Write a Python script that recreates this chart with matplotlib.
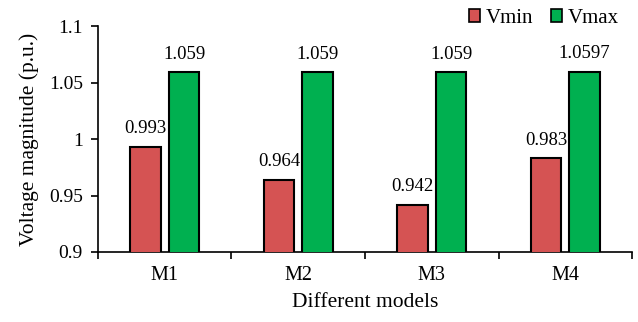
import matplotlib.pyplot as plt
import numpy as np
from matplotlib.patches import Patch

models = ["M1", "M2", "M3", "M4"]
vmin = [0.993, 0.964, 0.942, 0.983]
vmax = [1.059, 1.059, 1.059, 1.0597]
vmin_labels = ["0.993", "0.964", "0.942", "0.983"]
vmax_labels = ["1.059", "1.059", "1.059", "1.0597"]

RED = "#d55353"
GREEN = "#00b050"

plt.rcParams["font.family"] = ["Liberation Serif", "DejaVu Serif"]

fig = plt.figure(figsize=(6.38, 3.22), dpi=100)
ax = fig.add_axes([0.1536, 0.2174, 0.837, 0.7016])

x = np.arange(len(models))
w = 0.23
off = 0.145
ax.bar(x - off, vmin, w, color=RED, edgecolor="black", linewidth=1.5, zorder=3)
ax.bar(x + off, vmax, w, color=GREEN, edgecolor="black", linewidth=1.5, zorder=3)

# value labels above the bars
for xi, v, s in zip(x, vmin, vmin_labels):
    ax.annotate(s, (xi - off, v), xytext=(0, 7), textcoords="offset points",
                ha="center", va="bottom", fontsize=13.5)
for xi, v, s in zip(x, vmax, vmax_labels):
    ax.annotate(s, (xi + off, v), xytext=(0, 7), textcoords="offset points",
                ha="center", va="bottom", fontsize=13.5)

ax.set_ylim(0.9, 1.1)
ax.set_xlim(-0.5, len(models) - 0.5)
ax.set_yticks([0.9, 0.95, 1.0, 1.05, 1.1])
ax.set_yticklabels(["0.9", "0.95", "1", "1.05", "1.1"], fontsize=14)

# boundary ticks on the category axis, labels centred between them
ax.set_xticks(np.arange(-0.5, len(models)), labels=[""] * (len(models) + 1))
ax.set_xticks(x, labels=models, minor=True)
ax.tick_params(axis="x", which="minor", length=0, labelsize=14.5, pad=10)
ax.tick_params(axis="x", which="major", length=5, width=1.2)
ax.tick_params(axis="y", length=5, width=1.2, pad=6)

for side in ["top", "right"]:
    ax.spines[side].set_visible(False)
for side in ["left", "bottom"]:
    ax.spines[side].set_linewidth(1.2)

ax.set_xlabel("Different models", fontsize=15.5, labelpad=6)
ax.set_ylabel("Voltage magnitude (p.u.)", fontsize=15.5, labelpad=7)

handles = [Patch(facecolor=RED, edgecolor="black", linewidth=1.2, label="Vmin"),
           Patch(facecolor=GREEN, edgecolor="black", linewidth=1.2, label="Vmax")]
ax.legend(handles=handles, loc="upper right", bbox_to_anchor=(0.975, 1.075), ncol=2,
          frameon=False, fontsize=15, handlelength=0.55, handleheight=0.6,
          handletextpad=0.25, columnspacing=0.85, borderaxespad=0, borderpad=0)

fig.savefig("out.png", dpi=100)
